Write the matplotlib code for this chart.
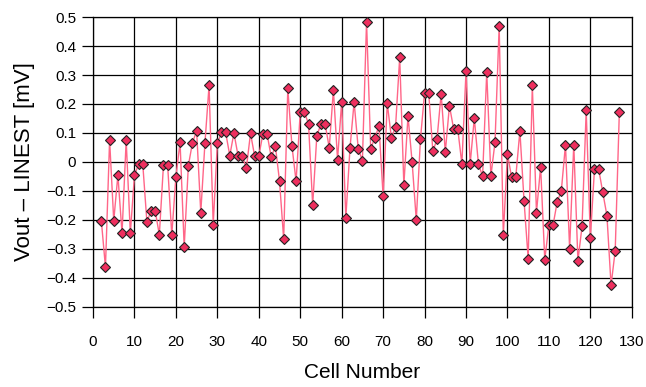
import numpy as np
import matplotlib
matplotlib.use('Agg')
import matplotlib.pyplot as plt
from matplotlib.ticker import FuncFormatter

plt.rcParams['font.family'] = ['Liberation Sans', 'DejaVu Sans']

# Cell numbers 2..127
cells = list(range(2, 128))

# Vout - LINEST values [mV]
vals = [
    -0.202, -0.363, 0.076, -0.203, -0.045, -0.246, 0.075, -0.246, -0.046, -0.007,   # 2-11
    -0.007, -0.207, -0.169, -0.169, -0.251, -0.010, -0.010, -0.252, -0.051, 0.068,  # 12-21
    -0.293, -0.013, 0.067, 0.107, -0.175, 0.064, 0.264, -0.216, 0.064, 0.102,       # 22-31
    0.102, 0.022, 0.100, 0.021, 0.021, -0.021, 0.099, 0.020, 0.020, 0.098,          # 32-41
    0.097, 0.016, 0.055, -0.066, -0.266, 0.254, 0.055, -0.067, 0.172, 0.172,        # 42-51
    0.131, -0.149, 0.090, 0.131, 0.131, 0.049, 0.249, 0.008, 0.208, -0.193,         # 52-61
    0.047, 0.207, 0.045, 0.005, 0.484, 0.045, 0.084, 0.123, -0.118, 0.202,          # 62-71
    0.083, 0.122, 0.361, -0.080, 0.159, -0.001, -0.201, 0.078, 0.238, 0.238,        # 72-81
    0.037, 0.078, 0.236, 0.034, 0.194, 0.115, 0.115, -0.007, 0.313, -0.007,         # 82-91
    0.151, -0.008, -0.049, 0.310, -0.049, 0.069, 0.469, -0.253, 0.028, -0.053,      # 92-101
    -0.053, 0.107, -0.134, -0.334, 0.264, -0.175, -0.016, -0.337, -0.218, -0.218,   # 102-111
    -0.138, -0.099, 0.060, -0.300, 0.060, -0.341, -0.222, 0.178, -0.263, -0.024,    # 112-121
    -0.024, -0.105, -0.185, -0.425, -0.306, 0.174,                                  # 122-127
]

x_ticks = list(range(0, 131, 10))
y_ticks = [-0.5, -0.4, -0.3, -0.2, -0.1, 0, 0.1, 0.2, 0.3, 0.4, 0.5]

fig = plt.figure(figsize=(6.46, 3.87), dpi=100)
ax = fig.add_axes([0.144, 0.207, 0.834, 0.749])

ax.plot(cells, vals, color='#ff6688', linewidth=1.0, zorder=3)
ax.plot(cells, vals, linestyle='none', marker='D', markersize=5.5,
        markerfacecolor='#ee2f5e', markeredgecolor='#222222',
        markeredgewidth=0.8, zorder=4)

ax.set_xlim(0, 130)
ax.set_ylim(-0.5, 0.5)
ax.set_xticks(x_ticks)
ax.set_yticks(y_ticks)

def yfmt(v, pos):
    if abs(v) < 1e-9:
        return '0'
    return ('%.1f' % v).replace('-', '\u2212')

ax.yaxis.set_major_formatter(FuncFormatter(yfmt))

ax.grid(True, color='black', linewidth=0.9)
ax.set_axisbelow(True)
for s in ax.spines.values():
    s.set_color('black')
    s.set_linewidth(0.9)

ax.tick_params(direction='out', length=8, width=0.9, labelsize=11, pad=4)
ax.tick_params(axis='x', pad=12)

ax.set_xlabel('Cell Number', fontsize=15, labelpad=10)
ax.set_ylabel('Vout \u2013 LINEST [mV]', fontsize=16, labelpad=8)

fig.savefig('out.png', dpi=100)
